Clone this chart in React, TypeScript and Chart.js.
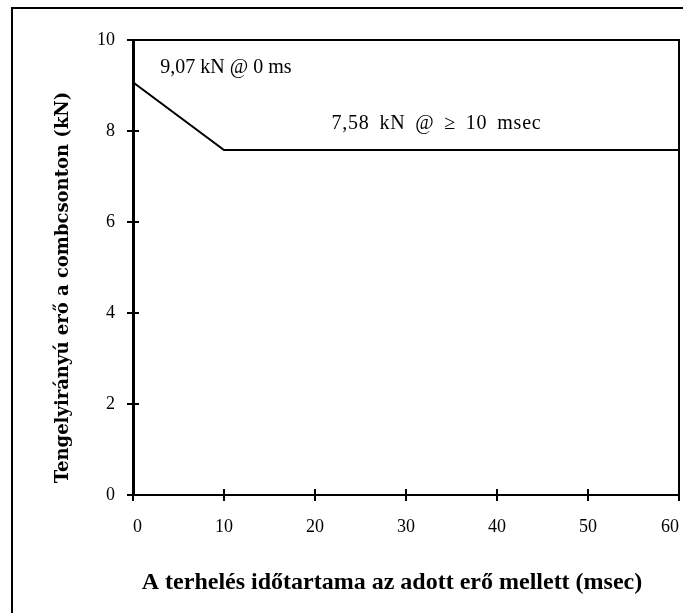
import React, { useEffect, useRef } from "react";
import { Chart, registerables } from "chart.js";

Chart.register(...registerables);

const timeMs = [0, 10, 60];
const forceKN = [9.07, 7.58, 7.58];
const xTickValues = [0, 10, 20, 30, 40, 50, 60];
const yTickValues = [0, 2, 4, 6, 8, 10];
const xTitle = "A terhelés időtartama az adott erő mellett (msec)";
const yTitle = "Tengelyirányú erő a combcsonton (kN)";
const noteTexts = ["9,07 kN @ 0 ms", "7,58 kN @ ≥ 10 msec"];
const noteAtTime = [3, 21.8];
const noteAtForce = [9.38, 8.15];

const SERIF = "'Liberation Serif', 'Times New Roman', serif";
const WIDE_SERIF = "'DejaVu Serif', serif";

const decorPlugin = {
  id: "decor",
  beforeDraw(chart: any) {
    const ctx = chart.ctx;
    ctx.save();
    ctx.fillStyle = "#ffffff";
    ctx.fillRect(0, 0, chart.width, chart.height);
    ctx.strokeStyle = "#000000";
    ctx.lineWidth = 2;
    ctx.beginPath();
    ctx.moveTo(12, chart.height + 10);
    ctx.lineTo(12, 8);
    ctx.lineTo(chart.width + 10, 8);
    ctx.stroke();
    ctx.restore();
  },
  afterDraw(chart: any) {
    const { ctx, chartArea: a, scales } = chart;
    ctx.save();
    ctx.strokeStyle = "#000000";
    ctx.lineWidth = 2;
    ctx.beginPath();
    ctx.moveTo(a.left, a.top);
    ctx.lineTo(a.right, a.top);
    ctx.lineTo(a.right, a.bottom);
    ctx.stroke();
    ctx.beginPath();
    yTickValues.forEach((v) => {
      const y = scales.y.getPixelForValue(v);
      ctx.moveTo(a.left, y);
      ctx.lineTo(a.left + 6, y);
    });
    xTickValues.forEach((v) => {
      const x = scales.x.getPixelForValue(v);
      ctx.moveTo(x, a.bottom);
      ctx.lineTo(x, a.bottom - 6);
    });
    ctx.stroke();

    // annotations
    ctx.fillStyle = "#000000";
    ctx.textBaseline = "middle";
    ctx.textAlign = "left";
    ctx.font = "20px " + SERIF;
    noteTexts.forEach((t, i) => {
      (ctx as any).letterSpacing = i === 1 ? "0.8px" : "0px";
      (ctx as any).wordSpacing = i === 1 ? "4px" : "0px";
      ctx.fillText(
        t,
        scales.x.getPixelForValue(noteAtTime[i]),
        scales.y.getPixelForValue(noteAtForce[i])
      );
    });
    (ctx as any).letterSpacing = "0px";
    (ctx as any).wordSpacing = "0px";

    // x axis title
    ctx.font = "bold 24px " + SERIF;
    ctx.textAlign = "center";
    ctx.textBaseline = "middle";
    ctx.fillText(xTitle, (a.left + a.right) / 2 - 14, 583);

    // y axis title
    ctx.translate(63, (a.top + a.bottom) / 2 + 20);
    ctx.rotate(-Math.PI / 2);
    ctx.font = "bold 18px " + WIDE_SERIF;
    ctx.fillText(yTitle, 0, 0);
    ctx.restore();
  },
};

export default function App() {
  const canvasRef = useRef<HTMLCanvasElement | null>(null);

  useEffect(() => {
    if (!canvasRef.current) return;
    const points = timeMs.map((t, i) => ({ x: t, y: forceKN[i] }));
    const chart = new Chart(canvasRef.current, {
      type: "line",
      data: {
        datasets: [
          {
            data: points,
            borderColor: "#000000",
            borderWidth: 2,
            pointRadius: 0,
            fill: false,
            tension: 0,
          },
        ],
      },
      plugins: [decorPlugin],
      options: {
        animation: false,
        responsive: true,
        maintainAspectRatio: false,
        layout: { padding: { left: 0, right: 4, top: 40, bottom: 0 } },
        plugins: {
          legend: { display: false },
          tooltip: { enabled: false },
        },
        scales: {
          x: {
            type: "linear",
            min: 0,
            max: 60,
            afterFit(scale: any) {
              scale.height = 118;
              scale.paddingRight = 0;
              scale.paddingLeft = 0;
            },
            afterBuildTicks(scale: any) {
              scale.ticks = xTickValues.map((v) => ({ value: v }));
            },
            ticks: {
              stepSize: 10,
              align: "inner",
              padding: 15,
              color: "#000000",
              font: { family: SERIF, size: 18 },
            },
            grid: {
              display: true,
              drawOnChartArea: false,
              drawTicks: true,
              tickLength: 6,
              color: "#000000",
              lineWidth: 2,
            },
            border: { display: true, color: "#000000", width: 2 },
            title: { display: false, text: xTitle },
          },
          y: {
            type: "linear",
            min: 0,
            max: 10,
            afterFit(scale: any) {
              scale.width = 133;
            },
            afterBuildTicks(scale: any) {
              scale.ticks = yTickValues.map((v) => ({ value: v }));
            },
            ticks: {
              stepSize: 2,
              padding: 12,
              color: "#000000",
              font: { family: SERIF, size: 18 },
            },
            grid: {
              display: true,
              drawOnChartArea: false,
              drawTicks: true,
              tickLength: 6,
              color: "#000000",
              lineWidth: 2,
            },
            border: { display: true, color: "#000000", width: 3 },
            title: { display: false, text: yTitle },
          },
        },
      },
    } as any);
    return () => chart.destroy();
  }, []);

  return (
    <div
      style={{
        position: "absolute",
        left: 0,
        top: 0,
        width: 683,
        height: 613,
        background: "#ffffff",
      }}
    >
      <canvas ref={canvasRef} />
    </div>
  );
}
